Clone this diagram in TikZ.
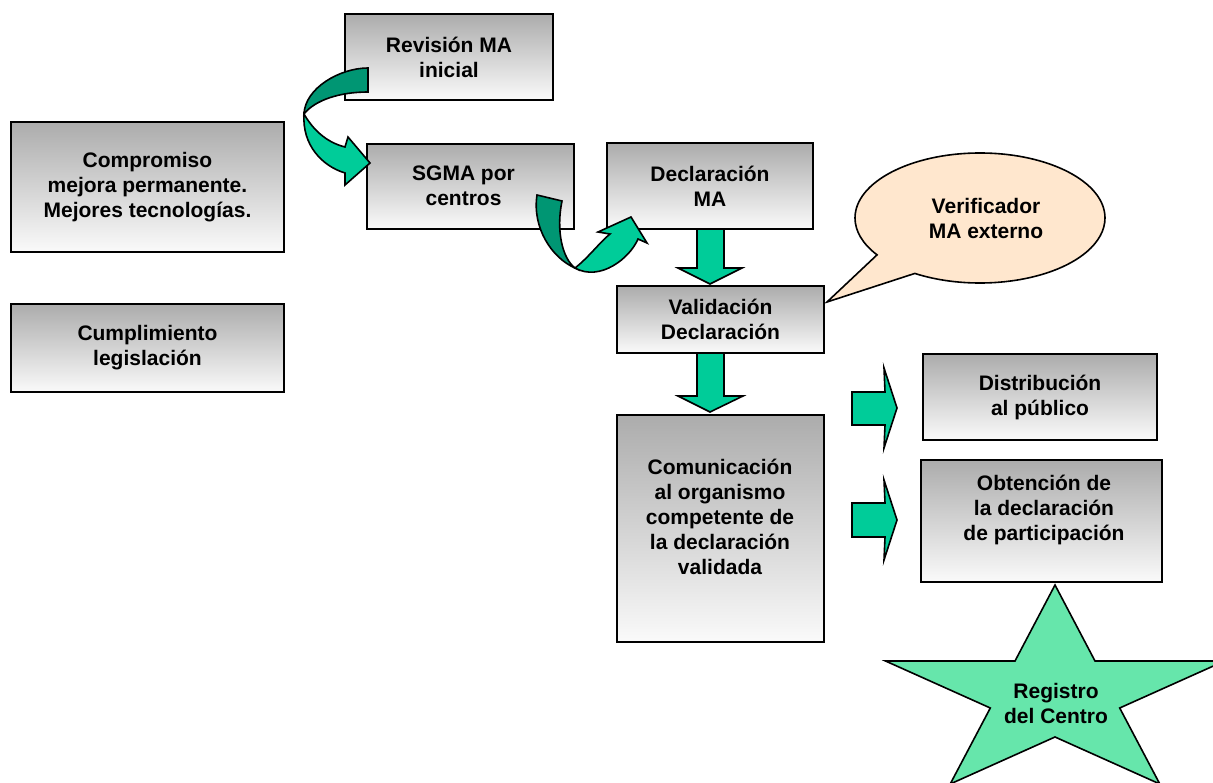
\documentclass[tikz,border=0pt]{standalone}
\usepackage{fontspec}
\setmainfont{Liberation Sans}
\usetikzlibrary{shapes.callouts}
\definecolor{grn}{RGB}{0,204,153}
\definecolor{dgrn}{RGB}{0,150,115}
\definecolor{peach}{RGB}{255,231,206}
\definecolor{stargrn}{RGB}{102,230,171}
\definecolor{boxtop}{RGB}{172,172,172}
\definecolor{boxbot}{RGB}{250,250,250}
\begin{document}
\begin{tikzpicture}[x=1pt,y=-1pt,
  txt/.style={font=\bfseries\fontsize{21}{25}\selectfont, align=center, inner sep=0pt},
  box/.style={draw=black, line width=1.6pt, top color=boxtop, bottom color=boxbot,
    inner sep=0pt, font=\bfseries\fontsize{21}{25}\selectfont, align=center},
  blk/.style={draw=black, line width=1.6pt, fill=grn, line join=miter},
  blkd/.style={draw=black, line width=1.6pt, fill=dgrn, line join=miter}]
\useasboundingbox (0,0) rectangle (1213,783);

% boxes
\node[box, minimum width=208, minimum height=86] (rev) at (449,57) {Revisión MA\\inicial};
\node[box, minimum width=207, minimum height=85] (sgma) at (470.5,186.5) {};
\node[txt] (sgmaT) at (463.5,186) {SGMA por\\centros};
\node[box, minimum width=206, minimum height=86] (decl) at (710,186) {Declaración\\MA};
\node[box, minimum width=207, minimum height=67] (val) at (720.5,319.5) {Validación\\Declaración};
\node[box, minimum width=207, minimum height=227] (com) at (720.5,528.5) {};
\node[txt] (comT) at (720,517) {Comunicación\\al organismo\\competente de\\la declaración\\validada};
\node[box, minimum width=234, minimum height=86] (dist) at (1040,397) {Distribución\\al público};
\node[box, minimum width=241, minimum height=122] (obt) at (1041.5,521) {};
\node[txt] (obtT) at (1044,510) {Obtención de\\la declaración\\de participación};
\node[box, minimum width=273, minimum height=130] (comp) at (147.5,187) {Compromiso\\mejora permanente.\\Mejores tecnologías.};
\node[box, minimum width=273, minimum height=88] (cum) at (147.5,348) {Cumplimiento\\legislación};

% callout
\node[ellipse callout, draw=black, line width=1.6pt, fill=peach, minimum width=250, minimum height=130,
  inner sep=0pt, callout absolute pointer={(827,302)}, callout pointer arc=24,
  font=\bfseries\fontsize{21}{25}\selectfont, align=center] (ver) at (980,218) {\hspace*{12pt}Verificador\\\hspace*{12pt}MA externo};

% star
\draw[line width=1.6pt, fill=stargrn] (1055,585) -- (1095,661) -- (1224.5,661) -- (1119.7,708)
  -- (1159.8,784) -- (1055,737) -- (950.2,784) -- (990.3,708) -- (885.5,661) -- (1015,661) -- cycle;
\node[txt] (reg) at (1056,703) {Registro\\del Centro};

% straight block arrows
\draw[blk] (697,229) -- (724,229) -- (724,268) -- (742,268) -- (710,284) -- (678,268) -- (697,268) -- cycle;
\draw[blk] (697,353) -- (724,353) -- (724,396) -- (743,396) -- (710,412) -- (678,396) -- (697,396) -- cycle;
\draw[blk] (852,392) -- (885,392) -- (884,368) -- (897,408) -- (884,448) -- (885,425) -- (852,425) -- cycle;
\draw[blk] (852,503) -- (885,503) -- (884,480) -- (897,520) -- (884,560) -- (885,537) -- (852,537) -- cycle;

% curved arrow 1 (Revision -> SGMA)
\draw[blkd] (368,68) .. controls (340,68) and (305,88) .. (304,114)
  .. controls (315,100) and (340,92) .. (368,92) -- cycle;
\draw[blk] (304,114) .. controls (312,128) and (325,142) .. (345,147) -- (348,137) -- (370,163)
  -- (345,185) -- (345,173) .. controls (322,166) and (302,145) .. (304,114) -- cycle;

% curved arrow 2 (SGMA -> Declaracion)
\draw[blkd] (537,195) -- (562,201) .. controls (556,230) and (562,258) .. (575,268)
  .. controls (552,258) and (532,228) .. (537,195) -- cycle;
\draw[blk] (575,268) .. controls (588,258) and (600,242) .. (610,234) -- (598,232) -- (631,217)
  -- (647,243) -- (638,239) .. controls (630,258) and (600,282) .. (575,268) -- cycle;
\end{tikzpicture}
\end{document}
